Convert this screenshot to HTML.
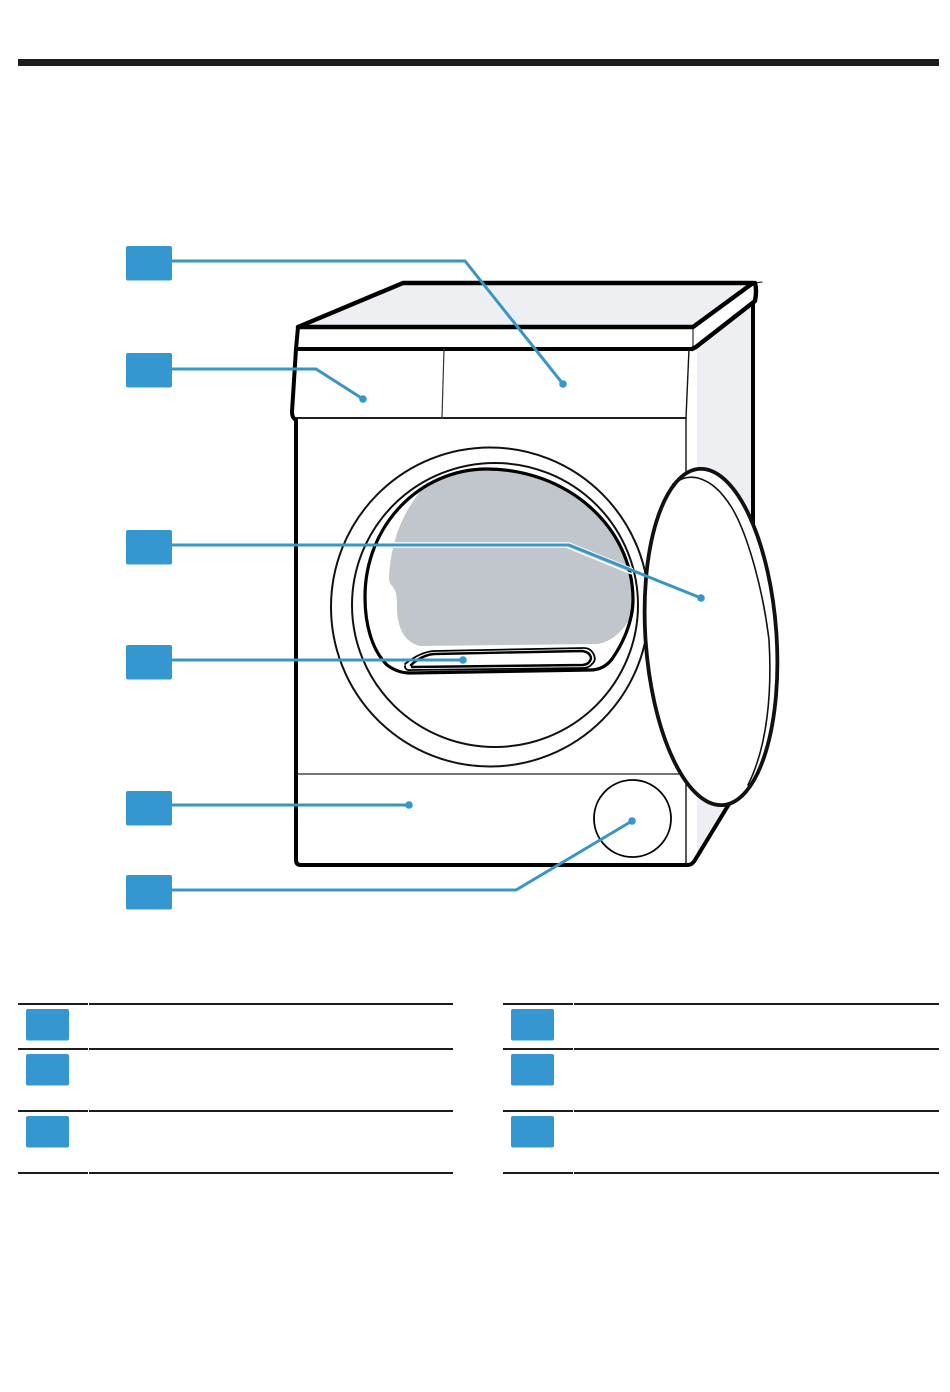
<!DOCTYPE html>
<html>
<head>
<meta charset="utf-8">
<style>
html,body{margin:0;padding:0;background:#fff;width:950px;height:1392px;overflow:hidden}
svg{display:block}
</style>
</head>
<body>
<svg width="950" height="1392" viewBox="0 0 950 1392" xmlns="http://www.w3.org/2000/svg" fill="none" stroke-linejoin="round" stroke-linecap="round">
<rect width="950" height="1392" fill="#fff"/>
<rect x="18" y="59" width="921" height="7" fill="#1d1d1b"/>

<!-- side panel -->
<polygon points="697,350 753,305 753,530 697,520" fill="#eeeff3"/>
<polygon points="697,780 735,800 697,856" fill="#eeeff3"/>
<!-- top -->
<polygon points="298,327 403,283 753,283 693,327" fill="#eeeff3"/>
<path d="M298,327 L403,283 L753,283 L693,327 L298,327" stroke="#000" stroke-width="4.400"/>
<path d="M753,283 L762,282" stroke="#000" stroke-width="1"/>
<path d="M755,283 Q757,290 755,301 L696,347 L692,349" stroke="#000" stroke-width="4.400"/>
<path d="M693,327 V348" stroke="#000" stroke-width="1"/>
<path d="M297,349 H692" stroke="#000" stroke-width="4"/>
<path d="M753,303 V525" stroke="#000" stroke-width="4"/>
<path d="M298,327 L296,349 L292,412 Q292,418 296,420 V860 Q296,865 301,865 H688 Q692,865 695,860 L729,804" stroke="#000" stroke-width="4"/>
<path d="M296,418 H686" stroke="#000" stroke-width="1.800"/>
<path d="M444,349 L442,418" stroke="#333" stroke-width="1.200"/>
<path d="M689,349 L686,418 V865" stroke="#111" stroke-width="1.400"/>
<path d="M297,774 H686" stroke="#222" stroke-width="1.200"/>
<circle cx="632.500" cy="818.500" r="38.500" stroke="#000" stroke-width="1.800"/>

<!-- drum rings -->
<ellipse cx="490" cy="607" rx="159" ry="159.500" stroke="#111" stroke-width="2"/>
<ellipse cx="495" cy="605" rx="143" ry="142" stroke="#111" stroke-width="2"/>
<path d="M389,577 C391,540 403,512 423,488 C440,473 465,470 490,470 C565,470 633,525 633,600 C633,610 632,613 630,618 C624,630 612,642 597,644 L420,646 C405,642 398,630 397,610 C397,600 397,592 393,587 C389,583 389,580 389,577Z" fill="#c1c6cc"/>
<path d="M387,665 C372,650 365,625 365,597 C365,525 420,469 487,469 C565,469 633,525 633,600 C633,622 622,645 612,659 C606,667 598,670 590,670 L410,673 C402,673 395,671 387,665Z" stroke="#000" stroke-width="3.200"/>
<path d="M405,664 Q420,652 434,651 L584,648 Q590,648 593,653 Q597,660 592,664 Q589,668 583,668 L412,670 Q405,671 405,666" fill="#fff" stroke="#000" stroke-width="1.800"/>
<path d="M411,665 Q422,655 434,654 L582,651 Q590,652 591,658 Q590,664 583,665 L412,667" stroke="#000" stroke-width="2.400"/>

<!-- door -->
<ellipse cx="711" cy="637" rx="65.500" ry="168.500" transform="rotate(-4 711 637)" fill="#fff" stroke="#111" stroke-width="3.800"/>
<path d="M673,484 C682,477 690,476 698,478 C712,482 722,492 732,508 C748,535 763,590 769,640 C772,690 768,745 748,785" stroke="#111" stroke-width="1.600"/>

<!-- callout lines -->
<g stroke-linecap="butt" stroke-linejoin="miter">
<path d="M390,543 H569 L633,569" stroke="#fff" stroke-width="1.500"/>
<path d="M390,547 H566 L632,574" stroke="#fff" stroke-width="1.500"/>
<path d="M171,261 H465 L563,384" stroke="#3a94c6" stroke-width="3"/>
<path d="M171,369 H316 L363,399" stroke="#3a94c6" stroke-width="3"/>
<path d="M171,545 H569 L701,598" stroke="#3a94c6" stroke-width="3"/>
<path d="M171,660 H463" stroke="#3a94c6" stroke-width="3"/>
<path d="M171,805 H409" stroke="#3a94c6" stroke-width="3"/>
<path d="M171,890 H516 L632,821" stroke="#3a94c6" stroke-width="3"/>
</g>
<g fill="#3497cf">
<circle cx="563" cy="384" r="3.800"/>
<circle cx="363" cy="399" r="3.800"/>
<circle cx="701" cy="598" r="3.800"/>
<circle cx="463" cy="660" r="3.800"/>
<circle cx="409" cy="805" r="3.800"/>
<circle cx="632" cy="821" r="3.800"/>
<rect x="126" y="246" width="46" height="34.500" rx="2"/>
<rect x="126" y="353" width="46" height="34.500" rx="2"/>
<rect x="126" y="530" width="46" height="34.500" rx="2"/>
<rect x="126" y="645" width="46" height="34.500" rx="2"/>
<rect x="126" y="791" width="46" height="34.500" rx="2"/>
<rect x="126" y="875" width="46" height="34.500" rx="2"/>
<!-- legend boxes -->
<rect x="26" y="1009" width="43" height="31.500" rx="2"/>
<rect x="26" y="1054" width="43" height="31.500" rx="2"/>
<rect x="26" y="1116" width="43" height="31.500" rx="2"/>
<rect x="511" y="1009" width="43" height="31.500" rx="2"/>
<rect x="511" y="1054" width="43" height="31.500" rx="2"/>
<rect x="511" y="1116" width="43" height="31.500" rx="2"/>
</g>

<!-- legend rules -->
<g fill="#1d1d1b">
<rect x="18" y="1003" width="435" height="2"/><rect x="18" y="1048" width="435" height="2"/><rect x="18" y="1110" width="435" height="2"/><rect x="18" y="1172" width="435" height="2"/>
<rect x="503" y="1003" width="436" height="2"/><rect x="503" y="1048" width="436" height="2"/><rect x="503" y="1110" width="436" height="2"/><rect x="503" y="1172" width="436" height="2"/>
</g>
<g fill="#fff">
<rect x="88" y="1003" width="1" height="2"/><rect x="88" y="1048" width="1" height="2"/><rect x="88" y="1110" width="1" height="2"/><rect x="88" y="1172" width="1" height="2"/>
<rect x="573" y="1003" width="1" height="2"/><rect x="573" y="1048" width="1" height="2"/><rect x="573" y="1110" width="1" height="2"/><rect x="573" y="1172" width="1" height="2"/>
</g>
</svg>
</body>
</html>
